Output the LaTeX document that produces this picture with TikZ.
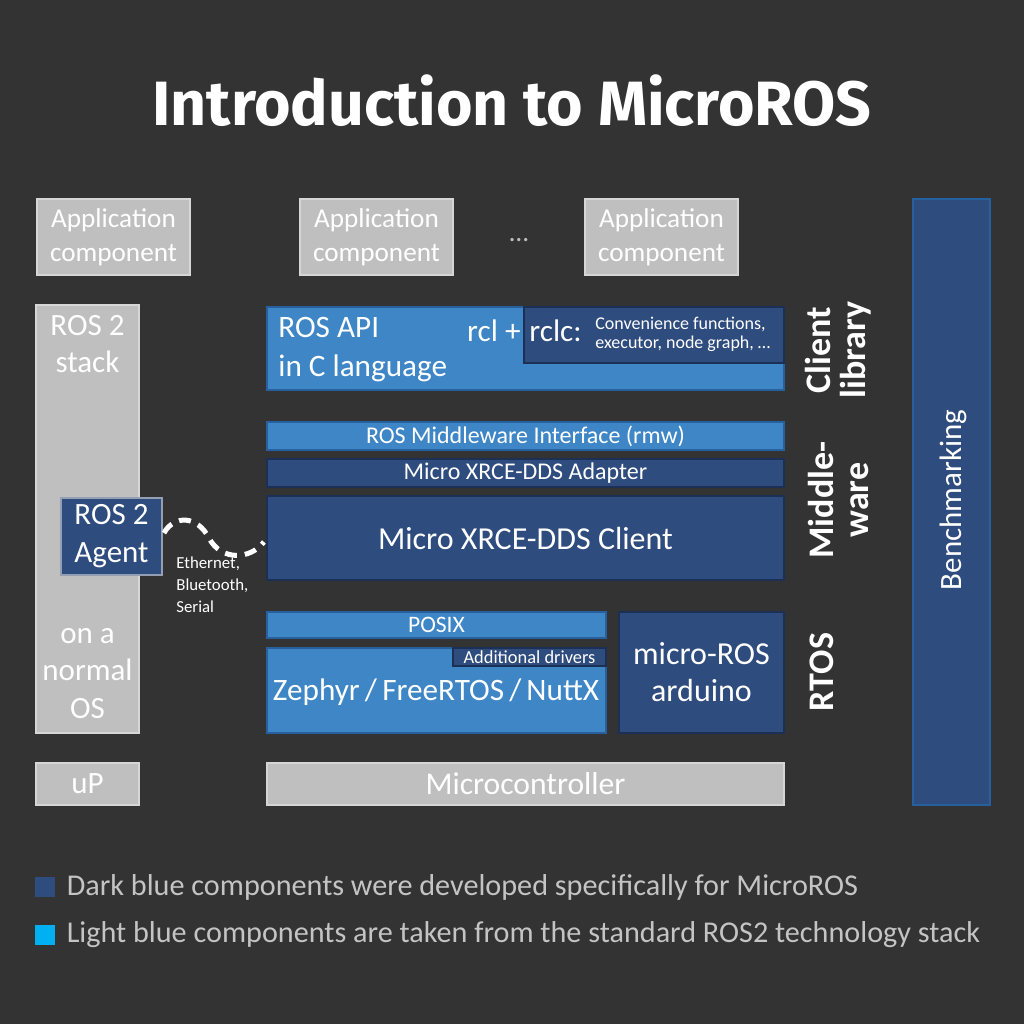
\documentclass[tikz,border=0pt]{standalone}
\usepackage{fontspec}
\setmainfont{Carlito}
\newfontfamily\titlefont{Fira Sans}
\usetikzlibrary{positioning}

\definecolor{bgcol}{RGB}{51,51,51}
\definecolor{ltblue}{RGB}{62,134,198}
\definecolor{ltedge}{RGB}{38,96,158}
\definecolor{dkblue}{RGB}{46,76,126}
\definecolor{dkedge}{RGB}{28,48,86}
\definecolor{greybox}{RGB}{191,191,191}
\definecolor{greyedge}{RGB}{214,214,214}
\definecolor{legtext}{RGB}{196,196,196}
\definecolor{cyankey}{RGB}{0,176,240}

\tikzset{
    % box from its corners, given in pixels of the picture
    span/.style n args={4}{minimum width={(#3-#1)*0.5pt}, minimum height={(#4-#2)*0.5pt},
        at={({(#1+#3)/2},{(#2+#4)/2})}},
    base/.style={inner sep=0pt, outer sep=0pt, text=white, align=center, line width=0.6pt},
    greyblock/.style={base, fill=greybox, draw=greyedge},
    ltblock/.style={base, fill=ltblue, draw=ltedge},
    dkblock/.style={base, fill=dkblue, draw=dkedge},
    txt/.style={inner sep=0pt, text=white, align=left},
    sidelabel/.style={inner sep=0pt, text=white, align=center, rotate=90,
        font=\bfseries\fontsize{18}{17.5}\selectfont},
    keybox/.style={minimum size=10pt, inner sep=0pt},
    legend/.style={inner sep=0pt, text=legtext, font=\fontsize{15.1}{17}\selectfont},
    wave/.style={white, line width=2.5pt, dash pattern=on 6pt off 4pt}
}

\begin{document}
\begin{tikzpicture}[x=0.5pt, y=-0.5pt]

    % background
    \fill[bgcol] (0,0) rectangle (1024,1024);

    \node[text=white, font=\titlefont\bfseries\fontsize{31.3}{38}\selectfont] (title) at (512,101) {Introduction to MicroROS};

    % application layer
    \node[greyblock, span={37}{199}{190}{275}, font=\fontsize{13.6}{17}\selectfont] (app1) {Application\\component};
    \node[greyblock, span={300}{199}{453}{275}, font=\fontsize{13.6}{17}\selectfont] (app2) {Application\\component};
    \node[greyblock, span={585}{199}{738}{275}, font=\fontsize{13.6}{17}\selectfont] (app3) {Application\\component};
    \node[txt, text=greybox, font=\fontsize{13.6}{17}\selectfont] (dots) at (519,240) {\dots};

    % ROS 2 side
    \node[greyblock, span={36}{305}{139}{733}] (stack) {};
    \node[txt, align=center, below=5pt of stack.north, font=\fontsize{15.5}{18.5}\selectfont] (stacktxt) {ROS 2\\stack};
    \node[txt, align=center, above=7pt of stack.south, font=\fontsize{15.5}{18.8}\selectfont] (ostxt) {on a\\normal\\OS};
    \node[dkblock, draw=greyedge!60!dkblue, span={61}{498}{162}{575}, font=\fontsize{15.5}{19}\selectfont] (agent) {ROS 2\\Agent};
    \node[greyblock, span={36}{763}{139}{805}, font=\fontsize{15.5}{18}\selectfont] (up) {uP};

    % client library
    \node[ltblock, span={267}{307}{784}{390}] (rclapi) {};
    \node[dkblock, span={524}{307}{784}{363}] (rclc) {};
    \node[txt, anchor=west, font=\fontsize{15.6}{19.5}\selectfont] (apitxt) at (278,350) {ROS API\\in C language};
    \node[txt, anchor=east, font=\fontsize{15.6}{19.5}\selectfont] (rcltxt) at (521,331) {rcl +};
    \node[txt, anchor=west, font=\fontsize{15.6}{19.5}\selectfont] (rclctxt) at (529,331) {rclc:};
    \node[txt, anchor=west, font=\fontsize{9}{9.6}\selectfont] (convtxt) at (595,334) {Convenience functions,\\executor, node graph, \dots};

    % middleware
    \node[ltblock, span={267}{422}{784}{450}, font=\fontsize{12}{14}\selectfont] (rmw) {ROS Middleware Interface (rmw)};
    \node[dkblock, span={267}{459}{784}{487}, font=\fontsize{12}{14}\selectfont] (adapter) {Micro XRCE-DDS Adapter};
    \node[dkblock, span={267}{496}{784}{580}, font=\fontsize{16}{19}\selectfont] (client) {Micro XRCE-DDS Client};

    % RTOS
    \node[ltblock, span={267}{612}{606}{638}, font=\fontsize{11.8}{14}\selectfont] (posix) {POSIX};
    \node[ltblock, span={267}{648}{606}{733}] (zephyr) {};
    \node[dkblock, span={453}{648}{606}{666}, font=\fontsize{9.2}{11}\selectfont] (drivers) {Additional drivers};
    \node[txt, font=\fontsize{15.6}{18}\selectfont] (zephyrtxt) at (436,692) {Zephyr\,/\,FreeRTOS\,/\,NuttX};
    \node[dkblock, span={619}{612}{784}{733}, font=\fontsize{16}{18.5}\selectfont] (arduino) {micro-ROS\\arduino};

    % hardware
    \node[greyblock, span={267}{763}{784}{805}, font=\fontsize{15.8}{18}\selectfont] (mcu) {Microcontroller};

    % layer labels
    \node[sidelabel] (cliblbl) at (838,350) {Client\\library};
    \node[sidelabel] (mwlbl) at (838,500) {Middle-\\ware};
    \node[sidelabel] (rtoslbl) at (822,672) {RTOS};

    % benchmarking
    \node[dkblock, draw=ltedge, span={913}{199}{990}{805}] (bench) {};
    \node[txt, rotate=90, font=\fontsize{15.5}{18}\selectfont] (benchtxt) at (953,500) {Benchmarking};

    % transport link
    \coordinate (wavemid) at (209,538);
    \draw[wave, shorten <=2pt, shorten >=2.5pt] (agent.east) .. controls (174,515) and (197,515) .. (wavemid) .. controls (221,561) and (250,560) .. (client.west);
    \node[txt, anchor=north west, font=\fontsize{8.4}{11}\selectfont] (linktxt) at (176,556) {Ethernet,\\Bluetooth,\\Serial};

    % legend
    \node[keybox, fill=dkblue] (dkkey) at (45,887) {};
    \node[legend, right=5.5pt of dkkey] (dklegend) {Dark blue components were developed specifically for MicroROS};
    \node[keybox, fill=cyankey] (ltkey) at (45,935) {};
    \node[legend, right=5.5pt of ltkey] (ltlegend) {Light blue components are taken from the standard ROS2 technology stack};

\end{tikzpicture}
\end{document}
